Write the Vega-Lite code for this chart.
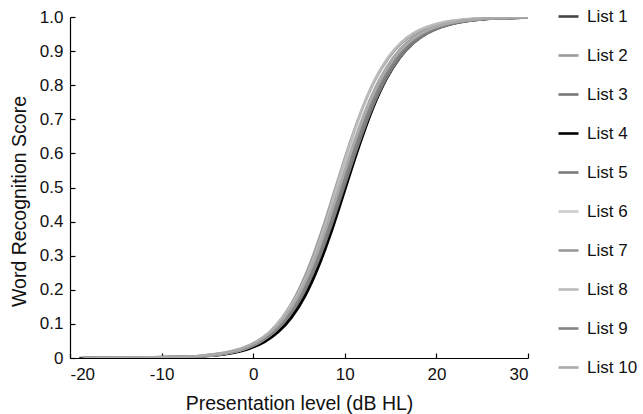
{
  "$schema": "https://vega.github.io/schema/vega-lite/v6.json",
  "width": 458,
  "height": 341,
  "autosize": "none",
  "padding": {"left": 70, "top": 17, "right": 115, "bottom": 56},
  "background": "white",
  "config": {
    "view": {"stroke": null},
    "font": "Liberation Sans",
    "axis": {"grid": false, "domainColor": "#000", "tickColor": "#000", "labelColor": "#111", "titleColor": "#111", "labelFont": "Liberation Sans", "titleFont": "Liberation Sans", "titleFontWeight": "normal", "labelFontSize": 17, "titleFontSize": 19.5, "domainWidth": 1.2, "tickWidth": 1.2}
  },
  "data": {"values": [
    {"l":"List 1","x":-19,"y":0.0001},{"l":"List 1","x":-8,"y":0.0025},{"l":"List 1","x":-5,"y":0.0067},{"l":"List 1","x":-2,"y":0.018},{"l":"List 1","x":-0.5,"y":0.0293},{"l":"List 1","x":1,"y":0.0474},{"l":"List 1","x":2.5,"y":0.0759},{"l":"List 1","x":4,"y":0.1192},{"l":"List 1","x":5.5,"y":0.1824},{"l":"List 1","x":7,"y":0.2689},{"l":"List 1","x":8.5,"y":0.3775},{"l":"List 1","x":10,"y":0.5},{"l":"List 1","x":11.5,"y":0.6225},{"l":"List 1","x":13,"y":0.7311},{"l":"List 1","x":14.5,"y":0.8176},{"l":"List 1","x":16,"y":0.8808},{"l":"List 1","x":17.5,"y":0.9241},{"l":"List 1","x":19,"y":0.9526},{"l":"List 1","x":20.5,"y":0.9707},{"l":"List 1","x":22,"y":0.982},{"l":"List 1","x":25,"y":0.9933},{"l":"List 1","x":28,"y":0.9975},{"l":"List 1","x":30,"y":0.999},
    {"l":"List 2","x":-18.5,"y":0.0001},{"l":"List 2","x":-8.4,"y":0.0025},{"l":"List 2","x":-5.5,"y":0.0067},{"l":"List 2","x":-2.6,"y":0.018},{"l":"List 2","x":-1.15,"y":0.0293},{"l":"List 2","x":0.3,"y":0.0474},{"l":"List 2","x":1.75,"y":0.0759},{"l":"List 2","x":3.2,"y":0.1192},{"l":"List 2","x":4.65,"y":0.1824},{"l":"List 2","x":6.1,"y":0.2689},{"l":"List 2","x":7.55,"y":0.3775},{"l":"List 2","x":9,"y":0.5},{"l":"List 2","x":10.45,"y":0.6225},{"l":"List 2","x":11.9,"y":0.7311},{"l":"List 2","x":13.35,"y":0.8176},{"l":"List 2","x":14.8,"y":0.8808},{"l":"List 2","x":16.25,"y":0.9241},{"l":"List 2","x":17.7,"y":0.9526},{"l":"List 2","x":19.15,"y":0.9707},{"l":"List 2","x":20.6,"y":0.982},{"l":"List 2","x":23.5,"y":0.9933},{"l":"List 2","x":26.4,"y":0.9975},{"l":"List 2","x":30,"y":0.9995},
    {"l":"List 3","x":-18.5,"y":0.0001},{"l":"List 3","x":-8.2,"y":0.0025},{"l":"List 3","x":-5.2,"y":0.0067},{"l":"List 3","x":-2.2,"y":0.018},{"l":"List 3","x":-0.7,"y":0.0293},{"l":"List 3","x":0.8,"y":0.0474},{"l":"List 3","x":2.3,"y":0.0759},{"l":"List 3","x":3.8,"y":0.1192},{"l":"List 3","x":5.3,"y":0.1824},{"l":"List 3","x":6.8,"y":0.2689},{"l":"List 3","x":8.3,"y":0.3775},{"l":"List 3","x":9.8,"y":0.5},{"l":"List 3","x":11.3,"y":0.6225},{"l":"List 3","x":12.8,"y":0.7311},{"l":"List 3","x":14.3,"y":0.8176},{"l":"List 3","x":15.8,"y":0.8808},{"l":"List 3","x":17.3,"y":0.9241},{"l":"List 3","x":18.8,"y":0.9526},{"l":"List 3","x":20.3,"y":0.9707},{"l":"List 3","x":21.8,"y":0.982},{"l":"List 3","x":24.8,"y":0.9933},{"l":"List 3","x":27.8,"y":0.9975},{"l":"List 3","x":30,"y":0.999},
    {"l":"List 4","x":-18.5,"y":0.0001},{"l":"List 4","x":-7.6,"y":0.0025},{"l":"List 4","x":-4.65,"y":0.0067},{"l":"List 4","x":-1.7,"y":0.018},{"l":"List 4","x":-0.23,"y":0.0293},{"l":"List 4","x":1.25,"y":0.0474},{"l":"List 4","x":2.73,"y":0.0759},{"l":"List 4","x":4.2,"y":0.1192},{"l":"List 4","x":5.68,"y":0.1824},{"l":"List 4","x":7.15,"y":0.2689},{"l":"List 4","x":8.63,"y":0.3775},{"l":"List 4","x":10.1,"y":0.5},{"l":"List 4","x":11.58,"y":0.6225},{"l":"List 4","x":13.05,"y":0.7311},{"l":"List 4","x":14.53,"y":0.8176},{"l":"List 4","x":16,"y":0.8808},{"l":"List 4","x":17.48,"y":0.9241},{"l":"List 4","x":18.95,"y":0.9526},{"l":"List 4","x":20.43,"y":0.9707},{"l":"List 4","x":21.9,"y":0.982},{"l":"List 4","x":24.85,"y":0.9933},{"l":"List 4","x":27.8,"y":0.9975},{"l":"List 4","x":30,"y":0.999},
    {"l":"List 5","x":-18.5,"y":0.0001},{"l":"List 5","x":-8.4,"y":0.0025},{"l":"List 5","x":-5.35,"y":0.0067},{"l":"List 5","x":-2.3,"y":0.018},{"l":"List 5","x":-0.78,"y":0.0293},{"l":"List 5","x":0.75,"y":0.0474},{"l":"List 5","x":2.28,"y":0.0759},{"l":"List 5","x":3.8,"y":0.1192},{"l":"List 5","x":5.33,"y":0.1824},{"l":"List 5","x":6.85,"y":0.2689},{"l":"List 5","x":8.38,"y":0.3775},{"l":"List 5","x":9.9,"y":0.5},{"l":"List 5","x":11.43,"y":0.6225},{"l":"List 5","x":12.95,"y":0.7311},{"l":"List 5","x":14.48,"y":0.8176},{"l":"List 5","x":16,"y":0.8808},{"l":"List 5","x":17.53,"y":0.9241},{"l":"List 5","x":19.05,"y":0.9526},{"l":"List 5","x":20.58,"y":0.9707},{"l":"List 5","x":22.1,"y":0.982},{"l":"List 5","x":25.15,"y":0.9933},{"l":"List 5","x":28.2,"y":0.9975},{"l":"List 5","x":30,"y":0.999},
    {"l":"List 6","x":-18.5,"y":0.0001},{"l":"List 6","x":-8.7,"y":0.0025},{"l":"List 6","x":-5.7,"y":0.0067},{"l":"List 6","x":-2.7,"y":0.018},{"l":"List 6","x":-1.2,"y":0.0293},{"l":"List 6","x":0.3,"y":0.0474},{"l":"List 6","x":1.8,"y":0.0759},{"l":"List 6","x":3.3,"y":0.1192},{"l":"List 6","x":4.8,"y":0.1824},{"l":"List 6","x":6.3,"y":0.2689},{"l":"List 6","x":7.8,"y":0.3775},{"l":"List 6","x":9.3,"y":0.5},{"l":"List 6","x":10.8,"y":0.6225},{"l":"List 6","x":12.3,"y":0.7311},{"l":"List 6","x":13.8,"y":0.8176},{"l":"List 6","x":15.3,"y":0.8808},{"l":"List 6","x":16.8,"y":0.9241},{"l":"List 6","x":18.3,"y":0.9526},{"l":"List 6","x":19.8,"y":0.9707},{"l":"List 6","x":21.3,"y":0.982},{"l":"List 6","x":24.3,"y":0.9933},{"l":"List 6","x":27.3,"y":0.9975},{"l":"List 6","x":30,"y":0.9993},
    {"l":"List 7","x":-18.5,"y":0.0001},{"l":"List 7","x":-7.9,"y":0.0025},{"l":"List 7","x":-5,"y":0.0067},{"l":"List 7","x":-2.1,"y":0.018},{"l":"List 7","x":-0.65,"y":0.0293},{"l":"List 7","x":0.8,"y":0.0474},{"l":"List 7","x":2.25,"y":0.0759},{"l":"List 7","x":3.7,"y":0.1192},{"l":"List 7","x":5.15,"y":0.1824},{"l":"List 7","x":6.6,"y":0.2689},{"l":"List 7","x":8.05,"y":0.3775},{"l":"List 7","x":9.5,"y":0.5},{"l":"List 7","x":10.95,"y":0.6225},{"l":"List 7","x":12.4,"y":0.7311},{"l":"List 7","x":13.85,"y":0.8176},{"l":"List 7","x":15.3,"y":0.8808},{"l":"List 7","x":16.75,"y":0.9241},{"l":"List 7","x":18.2,"y":0.9526},{"l":"List 7","x":19.65,"y":0.9707},{"l":"List 7","x":21.1,"y":0.982},{"l":"List 7","x":24,"y":0.9933},{"l":"List 7","x":26.9,"y":0.9975},{"l":"List 7","x":30,"y":0.9993},
    {"l":"List 8","x":-18.5,"y":0.0001},{"l":"List 8","x":-7.7,"y":0.0025},{"l":"List 8","x":-4.9,"y":0.0067},{"l":"List 8","x":-2.1,"y":0.018},{"l":"List 8","x":-0.7,"y":0.0293},{"l":"List 8","x":0.7,"y":0.0474},{"l":"List 8","x":2.1,"y":0.0759},{"l":"List 8","x":3.5,"y":0.1192},{"l":"List 8","x":4.9,"y":0.1824},{"l":"List 8","x":6.3,"y":0.2689},{"l":"List 8","x":7.7,"y":0.3775},{"l":"List 8","x":9.1,"y":0.5},{"l":"List 8","x":10.5,"y":0.6225},{"l":"List 8","x":11.9,"y":0.7311},{"l":"List 8","x":13.3,"y":0.8176},{"l":"List 8","x":14.7,"y":0.8808},{"l":"List 8","x":16.1,"y":0.9241},{"l":"List 8","x":17.5,"y":0.9526},{"l":"List 8","x":18.9,"y":0.9707},{"l":"List 8","x":20.3,"y":0.982},{"l":"List 8","x":23.1,"y":0.9933},{"l":"List 8","x":25.9,"y":0.9975},{"l":"List 8","x":30,"y":0.9995},
    {"l":"List 9","x":-18.5,"y":0.0001},{"l":"List 9","x":-8.3,"y":0.0025},{"l":"List 9","x":-5.3,"y":0.0067},{"l":"List 9","x":-2.3,"y":0.018},{"l":"List 9","x":-0.8,"y":0.0293},{"l":"List 9","x":0.7,"y":0.0474},{"l":"List 9","x":2.2,"y":0.0759},{"l":"List 9","x":3.7,"y":0.1192},{"l":"List 9","x":5.2,"y":0.1824},{"l":"List 9","x":6.7,"y":0.2689},{"l":"List 9","x":8.2,"y":0.3775},{"l":"List 9","x":9.7,"y":0.5},{"l":"List 9","x":11.2,"y":0.6225},{"l":"List 9","x":12.7,"y":0.7311},{"l":"List 9","x":14.2,"y":0.8176},{"l":"List 9","x":15.7,"y":0.8808},{"l":"List 9","x":17.2,"y":0.9241},{"l":"List 9","x":18.7,"y":0.9526},{"l":"List 9","x":20.2,"y":0.9707},{"l":"List 9","x":21.7,"y":0.982},{"l":"List 9","x":24.7,"y":0.9933},{"l":"List 9","x":27.7,"y":0.9975},{"l":"List 9","x":30,"y":0.999},
    {"l":"List 10","x":-18.5,"y":0.0001},{"l":"List 10","x":-8.6,"y":0.0025},{"l":"List 10","x":-5.6,"y":0.0067},{"l":"List 10","x":-2.6,"y":0.018},{"l":"List 10","x":-1.1,"y":0.0293},{"l":"List 10","x":0.4,"y":0.0474},{"l":"List 10","x":1.9,"y":0.0759},{"l":"List 10","x":3.4,"y":0.1192},{"l":"List 10","x":4.9,"y":0.1824},{"l":"List 10","x":6.4,"y":0.2689},{"l":"List 10","x":7.9,"y":0.3775},{"l":"List 10","x":9.4,"y":0.5},{"l":"List 10","x":10.9,"y":0.6225},{"l":"List 10","x":12.4,"y":0.7311},{"l":"List 10","x":13.9,"y":0.8176},{"l":"List 10","x":15.4,"y":0.8808},{"l":"List 10","x":16.9,"y":0.9241},{"l":"List 10","x":18.4,"y":0.9526},{"l":"List 10","x":19.9,"y":0.9707},{"l":"List 10","x":21.4,"y":0.982},{"l":"List 10","x":24.4,"y":0.9933},{"l":"List 10","x":27.4,"y":0.9975},{"l":"List 10","x":30,"y":0.9993}
  ]},
  "mark": {"type": "line", "interpolate": "monotone", "strokeWidth": 2.6, "clip": true},
  "encoding": {
    "x": {"field": "x", "type": "quantitative", "scale": {"domain": [-20, 30], "nice": false, "zero": false},
      "axis": {"values": [-20, -10, 0, 10, 20, 30], "tickSize": -5, "labelPadding": 13, "labelExpr": "'' + datum.value", "title": "Presentation level (dB HL)", "titlePadding": 12}},
    "y": {"field": "y", "type": "quantitative", "scale": {"domain": [0, 1], "nice": false},
      "axis": {"values": [0, 0.1, 0.2, 0.3, 0.4, 0.5, 0.6, 0.7, 0.8, 0.9, 1.0], "tickSize": -5, "labelPadding": 12, "labelExpr": "datum.value == 0 ? '0' : format(datum.value, '.1f')", "title": "Word Recognition Score", "titlePadding": 10, "titleY": 184}},
    "color": {"field": "l", "type": "nominal",
      "scale": {"domain": ["List 1","List 2","List 3","List 4","List 5","List 6","List 7","List 8","List 9","List 10"],
                "range": ["#444444","#9a9a9a","#777777","#000000","#7a7a7a","#cccccc","#999999","#bbbbbb","#858585","#aaaaaa"]},
      "legend": {"title": null, "orient": "none", "legendX": 487, "legendY": -12, "symbolType": "stroke", "symbolSize": 400, "symbolStrokeWidth": 2.6, "labelFontSize": 17, "labelFont": "Liberation Sans", "labelColor": "#111", "rowPadding": 19, "labelOffset": 7}}
  }
}
